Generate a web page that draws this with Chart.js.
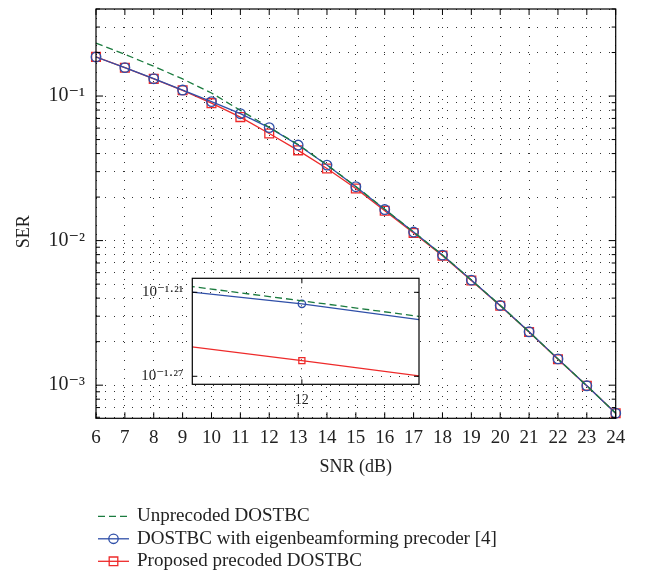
<!DOCTYPE html>
<html>
<head>
<meta charset="utf-8">
<script src="https://cdn.jsdelivr.net/npm/chart.js@4.4.1/dist/chart.umd.min.js"></script>
<style>
html,body{margin:0;padding:0;background:#fff;}
#wrap{position:relative;width:646px;height:579px;overflow:hidden;}
#main{position:absolute;left:0;top:0;}
#inset{position:absolute;left:130px;top:270px;}
</style>
</head>
<body>
<div id="wrap">
<canvas id="main" width="646" height="579"></canvas>
<canvas id="inset" width="300" height="140"></canvas>
</div>
<script>
// ---- data ----
const snr = [6, 7, 8, 9, 10, 11, 12, 13, 14, 15, 16, 17, 18, 19, 20, 21, 22, 23, 24];
const serUnprecoded = [0.232, 0.1945, 0.1606, 0.1313, 0.105, 0.0796, 0.0608, 0.0462, 0.0334, 0.0237, 0.0165, 0.01148, 0.00795, 0.00534, 0.00357, 0.00234, 0.00152, 0.00099, 0.00064];
const serEigen = [0.1862, 0.1572, 0.1318, 0.110, 0.0915, 0.0755, 0.0605, 0.0458, 0.0333, 0.0236, 0.0164, 0.01146, 0.00794, 0.00533, 0.00356, 0.00234, 0.00152, 0.00099, 0.00064];
const serProposed = [0.1865, 0.1570, 0.1315, 0.1095, 0.0893, 0.0715, 0.0551, 0.0421, 0.0315, 0.0229, 0.0161, 0.0113, 0.00787, 0.0053, 0.00354, 0.00233, 0.00151, 0.00099, 0.00064];
const seriesNames = ['Unprecoded DOSTBC', 'DOSTBC with eigenbeamforming precoder [4]', 'Proposed precoded DOSTBC'];
const xTickValues = [6, 7, 8, 9, 10, 11, 12, 13, 14, 15, 16, 17, 18, 19, 20, 21, 22, 23, 24];
const yMajorTicks = [1e-3, 1e-2, 1e-1];
const yTickLabels = ['10\u207B\u00B3', '10\u207B\u00B2', '10\u207B\u00B9'];
const insetXTicks = [12];
const insetXTickLabels = ['12'];
const insetYTicks = [Math.pow(10, -1.27), Math.pow(10, -1.21)];
const insetYTickLabels = ['10\u207B\u00B9\u00B7\u00B2\u2077', '10\u207B\u00B9\u00B7\u00B2\u00B9'];

const FONT = "'Liberation Serif', 'DejaVu Serif', serif";
Chart.defaults.font.family = FONT;
Chart.defaults.color = '#222';

const COL_G = '#1b7b3f', COL_B = '#2f4fa8', COL_R = '#ee2a2a';

function makeDatasets(scale) {
  const pts = a => snr.map((x, i) => ({x: x, y: a[i]}));
  return [
    {label: seriesNames[0], data: pts(serUnprecoded), borderColor: COL_G, borderWidth: 1.3, borderDash: [7, 4],
     pointRadius: 0, pointHoverRadius: 0, fill: false, tension: 0, clip: scale.clip},
    {label: seriesNames[1], data: pts(serEigen), borderColor: COL_B, borderWidth: 1.3, pointStyle: 'circle',
     pointRadius: scale.circle, pointBorderColor: COL_B, pointBackgroundColor: 'rgba(0,0,0,0)', pointBorderWidth: 1.3,
     fill: false, tension: 0, clip: scale.clip},
    {label: seriesNames[2], data: pts(serProposed), borderColor: COL_R, borderWidth: 1.3, pointStyle: 'rect',
     pointRadius: scale.rect, pointBorderColor: COL_R, pointBackgroundColor: 'rgba(0,0,0,0)', pointBorderWidth: 1.3,
     fill: false, tension: 0, clip: scale.clip}
  ];
}

function isMajor(v) { return yMajorTicks.some(m => Math.abs(m - v) / m < 1e-6); }

// box with inward tick marks
function boxPlugin(id, majorLen, minorLen, xLen) {
  return {
    id: id,
    beforeDraw(chart) {
      if (id !== 'insetBox') return;
      const {ctx, chartArea: a} = chart;
      ctx.save();
      ctx.fillStyle = '#fff';
      ctx.fillRect(a.left, a.top, a.width, a.height);
      ctx.restore();
    },
    afterDraw(chart) {
      const {ctx, chartArea: a, scales} = chart;
      const x = scales.x, y = scales.y;
      ctx.save();
      ctx.strokeStyle = '#000';
      ctx.lineWidth = 1;
      ctx.beginPath();
      x.ticks.forEach(t => {
        const px = x.getPixelForValue(t.value);
        ctx.moveTo(px, a.bottom); ctx.lineTo(px, a.bottom - xLen);
        ctx.moveTo(px, a.top); ctx.lineTo(px, a.top + xLen);
      });
      y.ticks.forEach(t => {
        const py = y.getPixelForValue(t.value);
        const L = (id === 'insetBox' || isMajor(t.value)) ? majorLen : minorLen;
        ctx.moveTo(a.left, py); ctx.lineTo(a.left + L, py);
        ctx.moveTo(a.right, py); ctx.lineTo(a.right - L, py);
      });
      ctx.stroke();
      ctx.lineWidth = 1.2;
      ctx.strokeRect(a.left, a.top, a.width, a.height);
      ctx.restore();
    }
  };
}

const legendPlugin = {
  id: 'bottomLegend',
  afterDraw(chart) {
    const ctx = chart.ctx;
    const base = chart.chartArea.bottom + 98;
    ctx.save();
    ctx.font = '19px ' + FONT;
    ctx.textBaseline = 'middle';
    ctx.fillStyle = '#222';
    chart.data.datasets.forEach((ds, i) => {
      const yy = base + i * 22.5;
      const x0 = 98, x1 = 129, xm = (x0 + x1) / 2;
      ctx.strokeStyle = ds.borderColor;
      ctx.lineWidth = 1.3;
      ctx.setLineDash(ds.borderDash || []);
      ctx.beginPath(); ctx.moveTo(x0, yy); ctx.lineTo(x1, yy); ctx.stroke();
      ctx.setLineDash([]);
      if (ds.pointRadius) {
        ctx.strokeStyle = ds.pointBorderColor;
        ctx.beginPath();
        if (ds.pointStyle === 'circle') ctx.arc(xm, yy, 4.7, 0, Math.PI * 2);
        else ctx.rect(xm - 4.3, yy - 4.3, 8.6, 8.6);
        ctx.stroke();
      }
      ctx.fillText(ds.label, 137, yy);
    });
    ctx.restore();
  }
};

const gridOpts = {color: '#333', lineWidth: 1, drawTicks: false};
const borderOpts = {display: false, dash: [1, 8]};
const noPadX = s => { s.paddingLeft = 0; s.paddingRight = 0; };
const noPadY = s => { s.paddingTop = 0; s.paddingBottom = 0; };

// ---- main chart ----
new Chart(document.getElementById('main'), {
  type: 'line',
  data: {datasets: makeDatasets({circle: 4.8, rect: 6.2, clip: false})},
  options: {
    responsive: false,
    animation: false,
    events: [],
    layout: {padding: {top: 9, right: 30.3, bottom: 100.7, left: 0}},
    plugins: {legend: {display: false}, tooltip: {enabled: false}},
    scales: {
      x: {
        type: 'linear', min: 6, max: 24,
        afterBuildTicks: s => { s.ticks = xTickValues.map(v => ({value: v})); },
        afterFit: s => { s.height = 60; noPadX(s); },
        grid: gridOpts, border: borderOpts,
        ticks: {autoSkip: false, maxRotation: 0, padding: 8, font: {size: 19}, color: '#222'},
        title: {display: true, text: 'SNR (dB)', font: {size: 18}, color: '#222', padding: {top: 0, bottom: 0}}
      },
      y: {
        type: 'logarithmic', min: 5.9e-4, max: 0.4,
        afterBuildTicks: s => {
          const t = [];
          for (let e = -4; e <= 0; e++) for (let m = 1; m <= 9; m++) {
            const v = m * Math.pow(10, e);
            if (v >= s.min * 0.999 && v <= s.max * 1.001) t.push({value: v});
          }
          s.ticks = t;
        },
        afterFit: s => { s.width = 96; noPadY(s); },
        grid: gridOpts, border: borderOpts,
        ticks: {
          autoSkip: false, padding: 11, font: {size: 20}, color: '#222',
          callback: v => { const i = yMajorTicks.findIndex(m => Math.abs(m - v) / m < 1e-6); return i >= 0 ? yTickLabels[i] : ''; }
        },
        title: {display: true, text: 'SER\u00A0\u00A0\u00A0\u00A0\u00A0\u00A0\u00A0\u00A0', font: {size: 18}, color: '#222', padding: {top: 13, bottom: 0}}
      }
    }
  },
  plugins: [boxPlugin('mainBox', 7, 4, 6), legendPlugin]
});

// ---- inset (zoom at SNR = 12) ----
new Chart(document.getElementById('inset'), {
  type: 'line',
  data: {datasets: makeDatasets({circle: 3.7, rect: 4.3, clip: 0})},
  options: {
    responsive: false,
    animation: false,
    events: [],
    layout: {padding: {top: 8.3, right: 11, bottom: 0, left: 0}},
    plugins: {legend: {display: false}, tooltip: {enabled: false}},
    scales: {
      x: {
        type: 'linear', min: 11.913, max: 12.093,
        afterBuildTicks: s => { s.ticks = insetXTicks.map(v => ({value: v})); },
        afterFit: s => { s.height = 25.7; noPadX(s); },
        grid: gridOpts, border: borderOpts,
        ticks: {autoSkip: false, maxRotation: 0, padding: 8, font: {size: 14}, color: '#222',
                callback: (v, i) => insetXTickLabels[i]}
      },
      y: {
        type: 'logarithmic', min: Math.pow(10, -1.2754), max: Math.pow(10, -1.2),
        afterBuildTicks: s => { s.ticks = insetYTicks.map(v => ({value: v})); },
        afterFit: s => { s.width = 62.3; noPadY(s); },
        grid: gridOpts, border: borderOpts,
        ticks: {autoSkip: false, padding: 9, font: {size: 15}, color: '#222',
                callback: (v, i) => insetYTickLabels[i]}
      }
    }
  },
  plugins: [boxPlugin('insetBox', 5, 5, 5)]
});
</script>
</body>
</html>
